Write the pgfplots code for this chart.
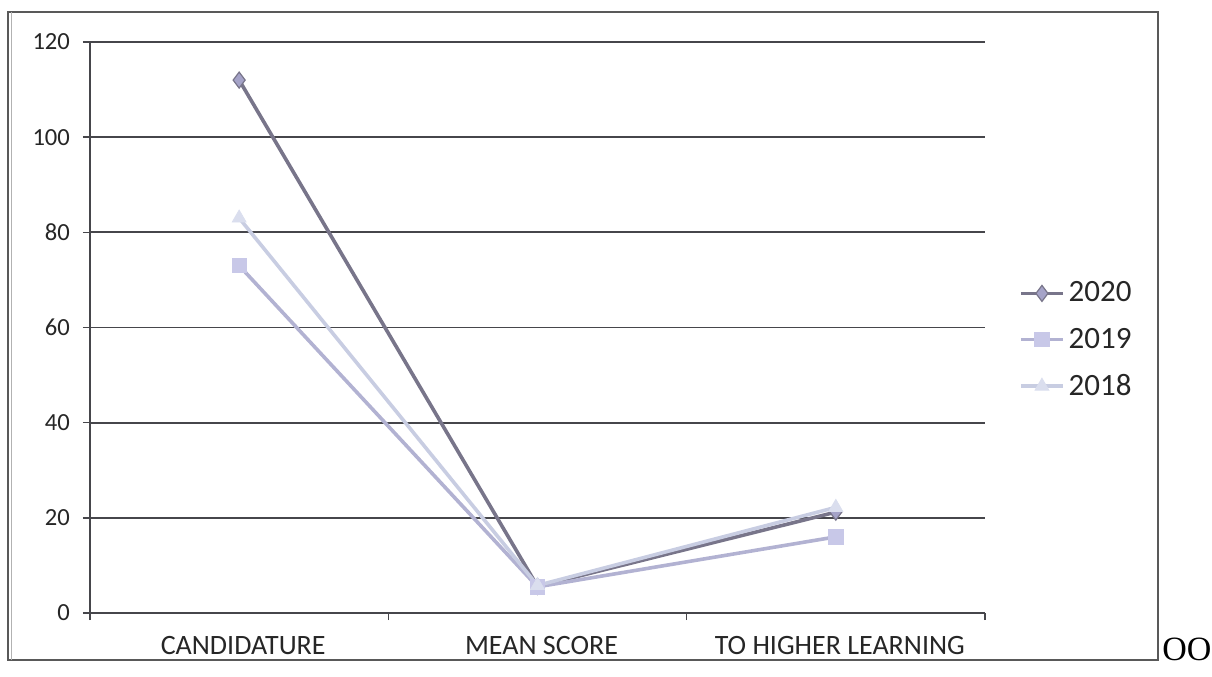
\documentclass[border=0pt]{standalone}
\usepackage{pgfplots}
\pgfplotsset{compat=1.18}
\usepackage{fontspec}
\setmainfont{Carlito}
\definecolor{gridc}{RGB}{70,70,75}
\definecolor{lA}{RGB}{120,117,138}
\definecolor{mA}{RGB}{165,163,200}
\definecolor{lB}{RGB}{178,178,210}
\definecolor{mB}{RGB}{200,200,232}
\definecolor{lC}{RGB}{200,205,226}
\definecolor{mC}{RGB}{218,222,238}
\begin{document}
\begin{tikzpicture}[x=1pt,y=1pt]
\useasboundingbox (0,0) rectangle (606,338);
\draw[gray!70!black, line width=0.8pt] (4,8) rectangle (579,332);
\draw[gray!60, line width=0.5pt] (5.5,8) -- (5.5,332);
\begin{axis}[
  at={(45pt,31.5pt)}, anchor=south west,
  scale only axis, width=447.5pt, height=285.5pt,
  xmin=-0.5, xmax=2.5, ymin=0, ymax=120,
  ytick={0,20,...,120},
  xtick={-0.5,0.5,1.5,2.5},
  xticklabels={},
  extra x ticks={0,1,2},
  extra x tick labels={CANDIDATURE,MEAN SCORE,TO HIGHER LEARNING},
  extra x tick style={major tick length=0pt, grid=none, tick label style={yshift=-8pt, xshift=2pt, font=\fontsize{14}{15}\selectfont}},
  axis x line*=bottom, axis y line*=left,
  x axis line style={gridc, line width=0.8pt},
  y axis line style={gridc, line width=0.8pt},
  major tick length=3.5pt,
  xtick style={gridc, line width=0.8pt},
  ytick style={gridc, line width=0.8pt},
  tick align=outside,
  ymajorgrids, grid style={gridc, line width=0.9pt},
  tick label style={font=\fontsize{12.3}{14}\selectfont, text=black!85},
  /pgf/number format/assume math mode=true,
  yticklabel style={xshift=-3pt},
  legend style={at={(1.031,0.478)}, anchor=west, draw=none, fill=none,
    font=\fontsize{15.5}{17}\selectfont, row sep=7.5pt, text=black!85,
    /tikz/every even column/.append style={column sep=1pt}},
  legend cell align=left,
  legend image code/.code={
    \draw[#1, mark repeat=2, mark phase=2] plot coordinates {(0pt,0pt) (10.5pt,0pt) (21pt,0pt)};
  },
]
\addplot[lA, line width=1.8pt, mark=diamond*, mark size=4pt, mark options={fill=mA, draw=lA, line width=0.6pt}]
  coordinates {(0,112) (1,5.6) (2,21.2)};
\addlegendentry{2020}
\addplot[lB, line width=1.8pt, mark=square*, mark size=3.6pt, mark options={fill=mB, draw=mB, line width=0.4pt}]
  coordinates {(0,73) (1,5.5) (2,16)};
\addlegendentry{2019}
\addplot[lC, line width=1.8pt, mark=triangle*, mark size=4pt, mark options={fill=mC, draw=mC, line width=0.4pt}]
  coordinates {(0,83) (1,5.8) (2,22.2)};
\addlegendentry{2018}
\end{axis}
\node[anchor=base west, inner sep=0pt] at (581,8) {\fontspec{Liberation Serif}\fontsize{17}{18}\selectfont OO};
\end{tikzpicture}
\end{document}
